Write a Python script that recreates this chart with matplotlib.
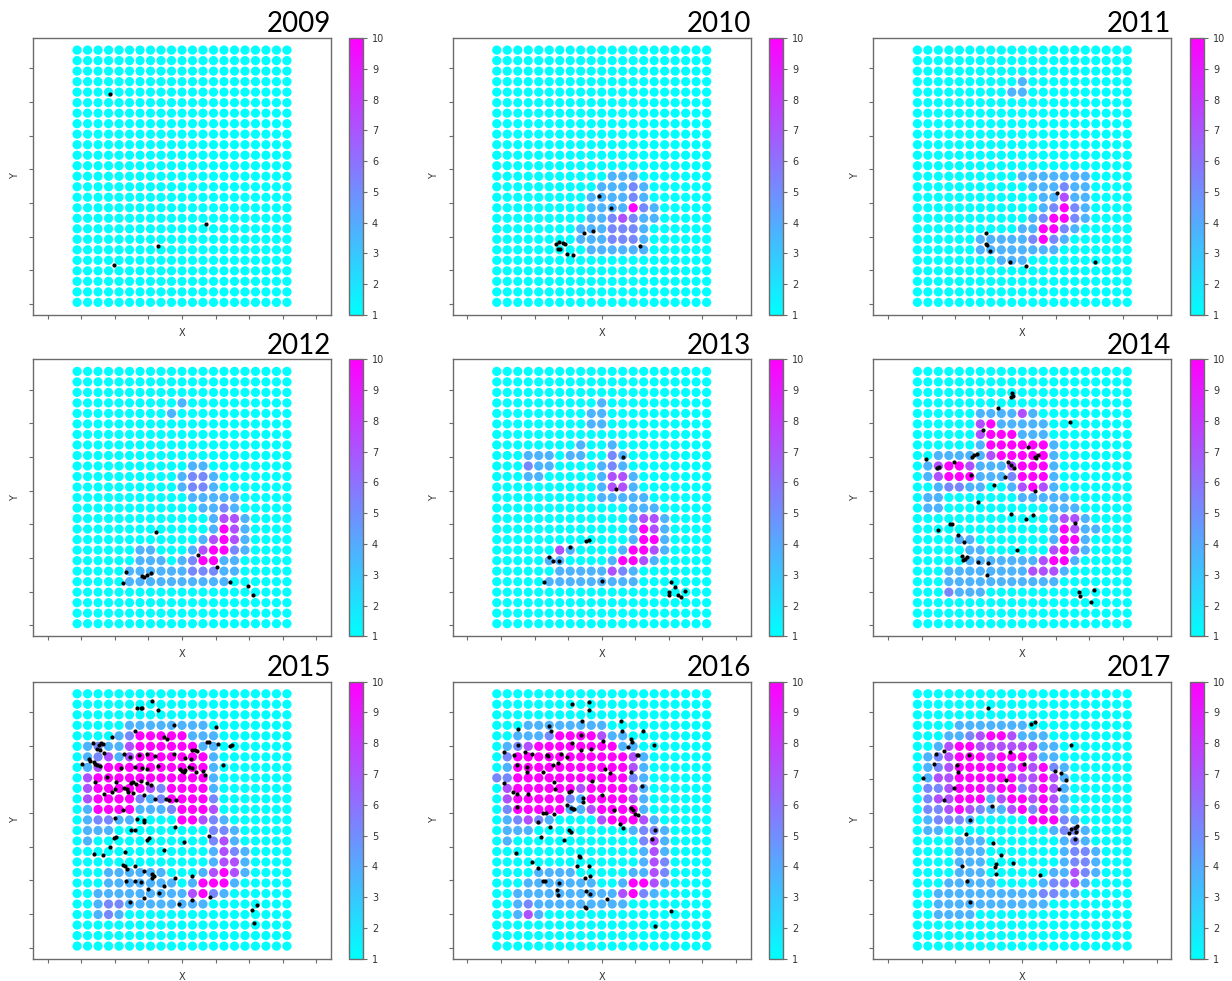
import matplotlib
matplotlib.use('Agg')
import matplotlib.pyplot as plt

# ---------------- data ----------------
years = [2009, 2010, 2011, 2012, 2013, 2014, 2015, 2016, 2017]

# cell level codes -> value on the 1..10 colour scale
level_values = {'.': 1.0, 'b': 3.7, 'v': 5.2, 'p': 7.2, 'M': 10.0}

E = "....................."  # empty row (21 cells)

grid_2009 = [E] * 25

grid_2010 = [E] * 12 + [
    "...........bbb.......",
    "..........bbbvb......",
    ".........bbbbvb......",
    ".........bbbbMvb.....",
    ".........bbvpvbb.....",
    "........bbbvvvb......",
    "........bbbvvvb......",
    ".........bbbbbb......",
] + [E] * 5

grid_2011 = [E] * 3 + [
    "..........b..........",
    ".........bb..........",
] + [E] * 7 + [
    "..........bbbbbbb....",
    "...........bbbvbb....",
    "............bbpbb....",
    "............bvMvb....",
    "...........bvMMvb....",
    "..........bbMMvb.....",
    "......bbbbbvMvb......",
    "......bbbbbbbb.......",
    "........bbb..........",
] + [E] * 4

grid_2012 = [E] * 3 + [
    "..........b..........",
    ".........b...........",
] + [E] * 4 + [
    "...........bb........",
    "..........bvvb.......",
    "..........bvvb.......",
    "...........bbbbb.....",
    "............bbvb.....",
    ".............bppb....",
    ".............bMpb....",
    "............bpMpb....",
    "......bb...bpMMvb....",
    "......bbb.bvMMbb.....",
    ".....bbbbbbvvvbb.....",
    ".....bbbbbbbbbb......",
] + [E] * 4

grid_2013 = [E] * 3 + [
    "..........b..........",
    ".........bb..........",
    ".........bb..........",
    E,
    "........b..b.........",
    "...bbb.bb..vb........",
    "...vbb....bvb........",
    "...bb.....bppb.......",
    "..........bppb.......",
    "..........bbbbb......",
    ".............bbb.....",
    ".............bppb....",
    ".............bMpb....",
    ".............bMMb....",
    "......pb....bMMpb....",
    ".....bb....bMMpb.....",
    "......bbbbbpvb.......",
    ".....bbbbbbbbb.......",
] + [E] * 4

grid_2014 = [E] * 4 + [
    "......bbbbpb.........",
    "......pMbbbbb........",
    "......pMMMbbb........",
    "......bMMMMMMb.......",
    "..bbbbbpMMMMMb.......",
    ".bpMMpbbbpMMMb.......",
    ".bpMMMbbbvMMMb.......",
    "..bvvbb..bpMpb.......",
    ".bb.......bbbbb......",
    ".bb..........bbb.....",
    ".............bppb....",
    ".............bMpbb...",
    "....bb.......bMMb....",
    ".....bb......pMpb....",
    ".....bbbbbbbpMMb.....",
    "...bbbbbbbbpppb......",
    "...bbbbbbbbbbb.......",
    "...vbbb..............",
] + [E] * 3

grid_2015 = [E] * 3 + [
    ".....bbbbbbbb........",
    "....bvMMMMMbbb.......",
    ".bvbbpMMMMMMbb.......",
    ".bvpbpMMMMMMMb.......",
    ".bpMMMMMMMMMMb.......",
    ".pMMMMMMMMMMMb.......",
    ".pMMMMMpvMMMMb.......",
    ".pMMMMvbvMMMMv.......",
    ".bMMMMbbbvMMMp.......",
    ".bvvbb....MMpvb......",
    ".bbb.........vvb.....",
    ".b...........vpb.....",
    ".............bpvb....",
    ".............bppb....",
    "...bbbbbb...bpMpb....",
    "...bbbbbbb.bMMMb.....",
    "..bbbbbbbbbpMvb......",
    "..bvvbbbbbbbb........",
    "..bvb................",
] + [E] * 3

grid_2016 = [E] * 3 + [
    "...bbbbbbbb..........",
    "..bbbvMMMMpbb........",
    ".bvpMMMMMMMMbb.......",
    ".vMMMMMMMMMMMpb......",
    ".bMMMMMMMMMMMpb......",
    "vvMMMMMMMMMMMvb......",
    ".pMMMMMMpMMMMpb......",
    ".pMMMMMvbMMMMpb......",
    ".vMMMMMbbpMMMMb......",
    ".bvpvb....pMMMpb.....",
    ".bbb.........bvvb....",
    ".b............vpb....",
    "..............bpb....",
    "..............bpv....",
    "....bbbb.....bbpv....",
    "...bbbbbbb..bMMpb....",
    "..bbbbbbbbbbpMvb.....",
    "..bvbbbbbbbbb........",
    "..bpb................",
] + [E] * 3

grid_2017 = [E] * 3 + [
    "....bbbbbbb..........",
    "...bbvpMMpbbb........",
    "..bpMMppppppbb.......",
    ".bvpMMMpMMMpbb.......",
    ".bvpMMMMMpMpMvb......",
    ".bppMMMMMMppMpb......",
    ".vvpMMMpMMvpMpb......",
    ".vppMMMbpMMpMpb......",
    ".vvpMpvbbpMvMpb......",
    ".bvvvb.....MMMvb.....",
    ".bb..........bvvb....",
    "....bbb.......bvb....",
    "....bbb.......bvvb...",
    "....bbb.......bvvb...",
    "....bbb......bbpvb...",
    "...bbbbb....bvvpb....",
    "..bbbbbbbbbbvvbb.....",
    "..bbbbbbbbbbb........",
    "..bbbb...............",
] + [E] * 3

# black observation points (grid units: x = column, y = row from bottom)
pts_2009 = [(3.1, 19.8), (12.25, 7.5), (7.7, 5.4), (3.55, 3.6)]

pts_2010 = [(9.7, 10.1), (10.9, 9.0), (9.2, 6.8), (8.3, 6.6), (13.65, 5.4),
            (5.6, 5.55), (5.95, 5.7), (6.3, 5.65), (6.55, 5.6), (5.85, 5.05),
            (6.05, 5.05), (6.65, 4.6), (7.25, 4.55)]

pts_2011 = [(13.3, 10.4), (6.55, 6.6), (6.5, 5.55), (6.65, 5.5), (6.9, 4.85),
            (8.85, 3.8), (10.4, 3.5), (16.95, 3.8)]

pts_2012 = [(7.5, 8.7), (4.65, 4.9), (4.4, 3.85), (6.2, 4.5), (6.4, 4.45),
            (6.65, 4.65), (7.0, 4.8), (11.5, 6.55), (13.35, 5.4), (14.55, 4.0),
            (16.25, 3.6), (16.8, 2.75)]

pts_2013 = [(12.05, 15.9), (11.35, 12.85), (8.55, 7.85), (8.8, 8.0), (7.0, 7.25),
            (5.0, 6.35), (5.4, 6.0), (5.9, 5.95), (4.5, 3.95), (10.05, 4.05),
            (16.65, 3.95), (17.0, 3.45), (16.45, 3.0), (16.45, 2.7), (17.3, 2.7),
            (17.6, 2.55), (17.95, 3.15)]

pts_2014 = [(9.05, 21.95), (9.15, 21.7), (8.9, 21.55), (7.7, 20.5), (14.5, 19.2),
            (6.3, 18.45), (10.55, 16.85), (0.8, 15.65), (3.5, 15.4), (5.4, 16.0),
            (5.65, 16.15), (5.25, 15.85), (1.9, 14.85), (2.05, 14.9), (5.15, 14.1),
            (8.65, 15.35), (8.9, 15.1), (9.2, 14.8), (8.35, 13.95), (11.2, 15.9),
            (11.45, 16.0), (11.35, 15.75), (7.3, 13.15), (11.25, 12.6), (5.75, 11.6),
            (8.9, 10.45), (11.0, 10.3), (10.4, 9.95), (15.0, 9.55), (3.1, 9.5),
            (3.3, 9.45), (1.95, 8.9), (3.9, 8.45), (4.4, 7.8), (9.5, 7.05),
            (4.3, 6.4), (4.5, 6.2), (4.75, 6.3), (4.35, 6.1), (5.75, 5.9),
            (6.75, 5.75), (6.65, 4.6), (15.4, 3.0), (15.5, 2.6), (16.8, 3.2),
            (16.5, 2.1)]

pts_2015 = [(7.15, 23.3), (5.7, 22.65), (6.05, 22.65), (6.2, 22.65), (7.7, 22.5),
            (9.2, 21.0), (5.55, 20.5), (13.25, 20.85), (3.35, 19.9), (8.3, 19.9),
            (8.55, 19.7), (1.5, 19.35), (2.3, 19.35), (2.5, 19.25), (2.05, 19.1),
            (1.9, 18.75), (2.15, 18.7), (2.55, 18.4), (10.95, 18.65), (11.25, 18.65),
            (11.45, 18.6), (12.4, 19.4), (12.55, 19.45), (13.4, 19.25), (14.6, 19.0),
            (14.75, 19.1), (0.5, 17.35), (1.1, 17.75), (1.25, 17.6), (1.6, 17.5),
            (1.75, 17.35), (1.9, 17.2), (2.15, 17.1), (4.45, 18.25), (5.0, 18.0),
            (5.9, 18.15), (6.65, 18.3), (7.4, 18.05), (9.2, 18.25), (10.3, 17.9),
            (10.85, 17.8), (13.9, 17.2), (4.2, 16.95), (5.55, 17.05), (6.15, 16.95),
            (6.65, 16.8), (7.7, 17.1), (9.8, 16.85), (10.0, 16.7), (10.15, 16.55),
            (10.3, 16.75), (10.65, 17.05), (10.95, 16.95), (11.35, 16.55), (12.0, 16.7),
            (12.15, 16.25), (1.75, 15.6), (2.85, 16.05), (3.7, 15.6), (5.1, 15.5),
            (5.3, 15.6), (5.65, 15.4), (6.05, 15.75), (6.65, 15.55), (7.0, 15.3),
            (2.55, 14.5), (3.35, 14.7), (3.65, 14.95), (4.5, 15.05), (4.75, 14.95),
            (4.9, 14.65), (5.35, 14.6), (6.35, 14.4), (7.45, 14.0), (8.5, 13.95),
            (8.75, 13.85), (9.45, 13.85), (4.4, 12.9), (5.7, 12.1), (6.35, 11.95),
            (6.4, 11.8), (3.65, 12.15), (5.1, 11.0), (5.5, 11.0), (9.35, 11.3),
            (6.65, 10.1), (6.85, 10.25), (3.5, 10.25), (3.75, 10.35), (3.15, 9.4),
            (1.6, 8.8), (2.5, 8.7), (4.6, 8.95), (10.15, 9.9), (12.6, 10.45),
            (8.25, 9.1), (4.4, 7.75), (4.6, 7.6), (4.75, 7.35), (5.55, 7.6),
            (7.1, 6.9), (7.3, 6.7), (6.35, 7.15), (7.1, 6.45), (4.7, 6.15),
            (5.5, 6.15), (6.05, 6.1), (6.75, 5.4), (7.85, 5.05), (8.25, 5.7),
            (9.35, 6.45), (10.95, 6.7), (5.0, 4.2), (6.35, 4.55), (9.7, 4.05),
            (10.95, 4.35), (12.65, 4.65), (16.65, 3.4), (17.1, 3.95), (16.9, 2.2)]

pts_2016 = [(7.15, 23.05), (8.8, 23.2), (8.8, 22.5), (8.1, 21.4), (2.05, 20.65),
            (5.0, 20.95), (5.15, 20.5), (11.85, 21.45), (11.95, 20.45), (13.95, 20.5),
            (10.1, 19.55), (7.2, 19.35), (8.05, 20.1), (12.75, 19.7), (12.9, 19.45),
            (2.05, 19.15), (12.55, 18.95), (15.0, 19.15), (0.65, 18.45), (1.65, 18.2),
            (2.7, 18.45), (3.35, 18.3), (4.75, 18.15), (4.9, 18.05), (6.1, 18.3),
            (6.65, 18.0), (8.0, 18.7), (8.95, 18.75), (1.9, 17.2), (2.85, 17.05),
            (2.9, 16.6), (4.4, 16.6), (5.4, 17.2), (5.8, 17.45), (10.3, 16.8),
            (10.75, 16.5), (12.75, 16.6), (13.35, 18.15), (13.5, 18.2), (0.7, 15.5),
            (1.5, 14.7), (1.95, 14.5), (3.0, 14.5), (5.5, 15.6), (5.55, 14.95),
            (6.9, 14.7), (7.05, 14.8), (9.05, 15.75), (10.0, 14.35), (8.25, 14.1),
            (8.2, 13.7), (13.8, 15.2), (6.65, 13.4), (7.05, 13.15), (7.3, 13.05),
            (7.4, 13.0), (1.9, 13.2), (4.4, 12.7), (4.65, 12.7), (5.5, 12.6),
            (11.15, 12.9), (12.75, 13.15), (12.95, 12.9), (13.2, 12.55), (13.5, 12.5),
            (11.7, 11.65), (12.0, 11.2), (3.95, 11.8), (5.1, 11.3), (6.9, 11.05),
            (7.05, 10.9), (6.4, 10.05), (4.2, 10.35), (15.1, 11.0), (14.75, 10.15),
            (1.8, 8.9), (3.4, 8.0), (3.95, 7.4), (7.8, 8.55), (7.95, 8.45),
            (7.6, 7.6), (8.8, 7.6), (8.9, 6.7), (8.4, 6.45), (4.45, 6.15),
            (4.6, 6.15), (5.95, 6.0), (5.7, 5.3), (5.8, 4.9), (8.5, 5.2),
            (8.85, 5.0), (10.55, 4.5), (8.4, 3.7), (8.55, 3.6), (16.65, 3.35),
            (15.1, 1.9)]

pts_2017 = [(6.75, 22.65), (10.8, 21.1), (11.2, 21.3), (14.65, 19.1), (1.75, 18.3),
            (2.55, 18.6), (4.9, 18.2), (8.85, 18.5), (1.6, 17.3), (3.8, 17.2),
            (3.9, 16.6), (10.15, 17.35), (13.15, 16.7), (13.65, 16.5), (14.2, 15.8),
            (0.5, 16.0), (8.4, 15.8), (3.5, 15.05), (13.5, 14.9), (2.5, 13.85),
            (7.15, 13.3), (5.0, 11.95), (14.6, 11.15), (15.0, 11.25), (15.25, 11.4),
            (14.45, 10.8), (15.1, 10.9), (15.05, 10.15), (4.65, 10.7), (7.2, 9.85),
            (7.95, 8.7), (7.45, 7.85), (7.4, 7.5), (7.5, 6.9), (9.1, 7.9),
            (4.3, 7.6), (4.75, 6.2), (11.65, 6.8), (5.05, 4.2)]

grids = [grid_2009, grid_2010, grid_2011, grid_2012, grid_2013,
         grid_2014, grid_2015, grid_2016, grid_2017]
points = [pts_2009, pts_2010, pts_2011, pts_2012, pts_2013,
          pts_2014, pts_2015, pts_2016, pts_2017]

x_ticks = [-2.8, 0.4, 3.6, 6.8, 10.0, 13.2, 16.4, 19.6, 22.8]
y_ticks = [-0.15, 3.05, 6.25, 9.45, 12.65, 15.85, 19.05, 22.25]
cbar_ticks = [1, 2, 3, 4, 5, 6, 7, 8, 9, 10]

# ---------------- layout ----------------
W, H = 1232, 981
fig = plt.figure(figsize=(W / 100, H / 100), dpi=100)
fig.patch.set_facecolor('white')

ax_left_px = [33, 452.7, 873.3]
cb_left_px = [349, 769.3, 1190]
row_top_px = [38, 359.3, 681.7]
ax_w_px, ax_h_px, cb_w_px = 298, 277, 14

spine_col = '#6b6b6b'

for k, (year, grid, pts) in enumerate(zip(years, grids, points)):
    rr, cc = divmod(k, 3)
    top = row_top_px[rr]
    ax = fig.add_axes([ax_left_px[cc] / W, 1 - (top + ax_h_px) / H,
                       ax_w_px / W, ax_h_px / H])
    cax = fig.add_axes([cb_left_px[cc] / W, 1 - (top + ax_h_px) / H,
                        cb_w_px / W, ax_h_px / H])

    nrows = len(grid)
    xs, ys, vs = [], [], []
    for r, row in enumerate(grid):
        for c, ch in enumerate(row):
            xs.append(c)
            ys.append(nrows - 1 - r)
            vs.append(level_values[ch])
    sc = ax.scatter(xs, ys, c=vs, cmap='cool', vmin=1, vmax=10,
                    s=44, linewidths=0, zorder=2)
    px = [p[0] for p in pts]
    py = [p[1] for p in pts]
    ax.scatter(px, py, s=9, c='black', linewidths=0, zorder=3)

    ax.set_xlim(-4.2, 24.2)
    ax.set_ylim(-1.2, 25.15)
    ax.set_xticks(x_ticks)
    ax.set_yticks(y_ticks)
    ax.set_xticklabels([])
    ax.set_yticklabels([])
    ax.tick_params(length=3, width=0.8, color=spine_col)
    for sp in ax.spines.values():
        sp.set_color(spine_col)
        sp.set_linewidth(1.0)
    ax.set_xlabel('X', fontsize=7, color='#333333', labelpad=3)
    ax.set_ylabel('Y', fontsize=7, color='#333333', labelpad=3)
    ax.set_title(str(year), loc='right', fontsize=20, family='Lato',
                 pad=4, color='black')

    cb = fig.colorbar(sc, cax=cax, ticks=cbar_ticks)
    cb.outline.set_edgecolor(spine_col)
    cb.outline.set_linewidth(1.0)
    cax.tick_params(labelsize=7, length=3, width=0.8, color=spine_col,
                    labelcolor='#333333')

fig.savefig('out.png', dpi=100)
